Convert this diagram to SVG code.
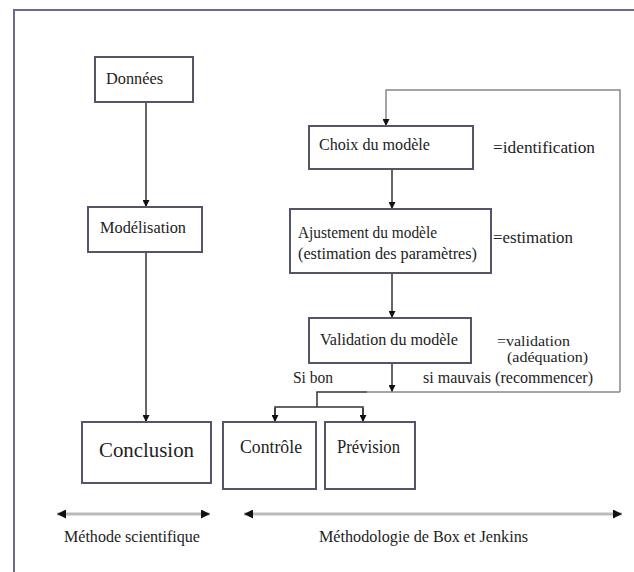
<svg xmlns="http://www.w3.org/2000/svg" width="634" height="572" viewBox="0 0 634 572">
<style>
.box{fill:#fff;stroke:#55556a;stroke-width:2}
.t{font-size:16px;fill:#222}
.c{fill:none;stroke:#333;stroke-width:1.5}
.g{fill:none;stroke:#888;stroke-width:1.5}
.span{fill:none;stroke:#bbb;stroke-width:3}
</style>
<defs>
<marker id="ah" viewBox="0 0 10 10" refX="10" refY="5" markerWidth="7" markerHeight="7" markerUnits="userSpaceOnUse" orient="auto">
<path d="M0,0 L10,5 L0,10 z" fill="#111"/>
</marker>
<marker id="ah2" viewBox="0 0 10 10" refX="10" refY="5" markerWidth="9" markerHeight="9" markerUnits="userSpaceOnUse" orient="auto-start-reverse">
<path d="M0,0 L10,5 L0,10 z" fill="#111"/>
</marker>
</defs>
<rect width="634" height="572" fill="#fff"/>
<path d="M14,572 V10 H634" fill="none" stroke="#6a6a8c" stroke-width="2"/>

<g id="connectors">
<path class="c" d="M146,102 V207" marker-end="url(#ah)"/>
<path class="c" d="M146,252 V422" stroke="#4a4030" marker-end="url(#ah)"/>
<path class="g" d="M620,392 V90 H386 V126" marker-end="url(#ah)"/>
<path class="c" d="M392,169 V209" marker-end="url(#ah)"/>
<path class="c" d="M392,273 V318" marker-end="url(#ah)"/>
<path class="c" d="M392,363 V392" marker-end="url(#ah)"/>
<path class="g" d="M620,392 H367"/>
<path class="c" d="M367,392 H317 V407"/>
<path class="c" d="M275,422 V407 H363 V422"/>
<path class="c" d="M275,408 V422" marker-end="url(#ah)"/>
<path class="c" d="M363,408 V422" marker-end="url(#ah)"/>
<path class="span" d="M57,514 H210" marker-start="url(#ah2)" marker-end="url(#ah2)"/>
<path class="span" d="M244,514 H622" marker-start="url(#ah2)" marker-end="url(#ah2)"/>
</g>

<g font-family="Liberation Serif, serif">
<g id="donnees"><rect class="box" x="95" y="57" width="98" height="45"/><text class="t" x="106" y="84" textLength="57" lengthAdjust="spacingAndGlyphs">Données</text></g>
<g id="modelisation"><rect class="box" x="88" y="207" width="114" height="45"/><text class="t" x="100" y="233" textLength="86" lengthAdjust="spacingAndGlyphs">Modélisation</text></g>
<g id="conclusion"><rect class="box" x="82" y="422" width="129" height="61"/><text class="t" x="99" y="457" style="font-size:20px" textLength="95" lengthAdjust="spacingAndGlyphs">Conclusion</text></g>
<g id="choix"><rect class="box" x="309" y="126" width="164" height="43"/><text class="t" x="319" y="150" textLength="111" lengthAdjust="spacingAndGlyphs">Choix du modèle</text></g>
<g id="ajustement"><rect class="box" x="290" y="209" width="201" height="64"/><text class="t" x="298" y="238" textLength="139" lengthAdjust="spacingAndGlyphs">Ajustement du modèle</text><text class="t" x="298" y="259" textLength="179" lengthAdjust="spacingAndGlyphs">(estimation des paramètres)</text></g>
<g id="validation"><rect class="box" x="309" y="318" width="162" height="45"/><text class="t" x="320" y="345" textLength="138" lengthAdjust="spacingAndGlyphs">Validation du modèle</text></g>
<g id="controle"><rect class="box" x="223" y="422" width="93" height="67"/><text class="t" x="240" y="453" style="font-size:18px" textLength="62" lengthAdjust="spacingAndGlyphs">Contrôle</text></g>
<g id="prevision"><rect class="box" x="325" y="422" width="90" height="67"/><text class="t" x="337" y="453" style="font-size:18px" textLength="63" lengthAdjust="spacingAndGlyphs">Prévision</text></g>

<g id="labels">
<text class="t" x="493" y="153" textLength="102" lengthAdjust="spacingAndGlyphs">=identification</text>
<text class="t" x="493" y="243" textLength="80" lengthAdjust="spacingAndGlyphs">=estimation</text>
<text class="t" x="497" y="346" style="font-size:14px" textLength="73" lengthAdjust="spacingAndGlyphs">=validation</text>
<text class="t" x="507" y="362" style="font-size:14px" textLength="81" lengthAdjust="spacingAndGlyphs">(adéquation)</text>
<text class="t" x="423" y="383" textLength="170" lengthAdjust="spacingAndGlyphs">si mauvais (recommencer)</text>
<text class="t" x="293" y="383" textLength="40" lengthAdjust="spacingAndGlyphs">Si bon</text>
<text class="t" x="64" y="542" textLength="136" lengthAdjust="spacingAndGlyphs">Méthode scientifique</text>
<text class="t" x="319" y="542" textLength="209" lengthAdjust="spacingAndGlyphs">Méthodologie de Box et Jenkins</text>
</g>
</g>
</svg>
